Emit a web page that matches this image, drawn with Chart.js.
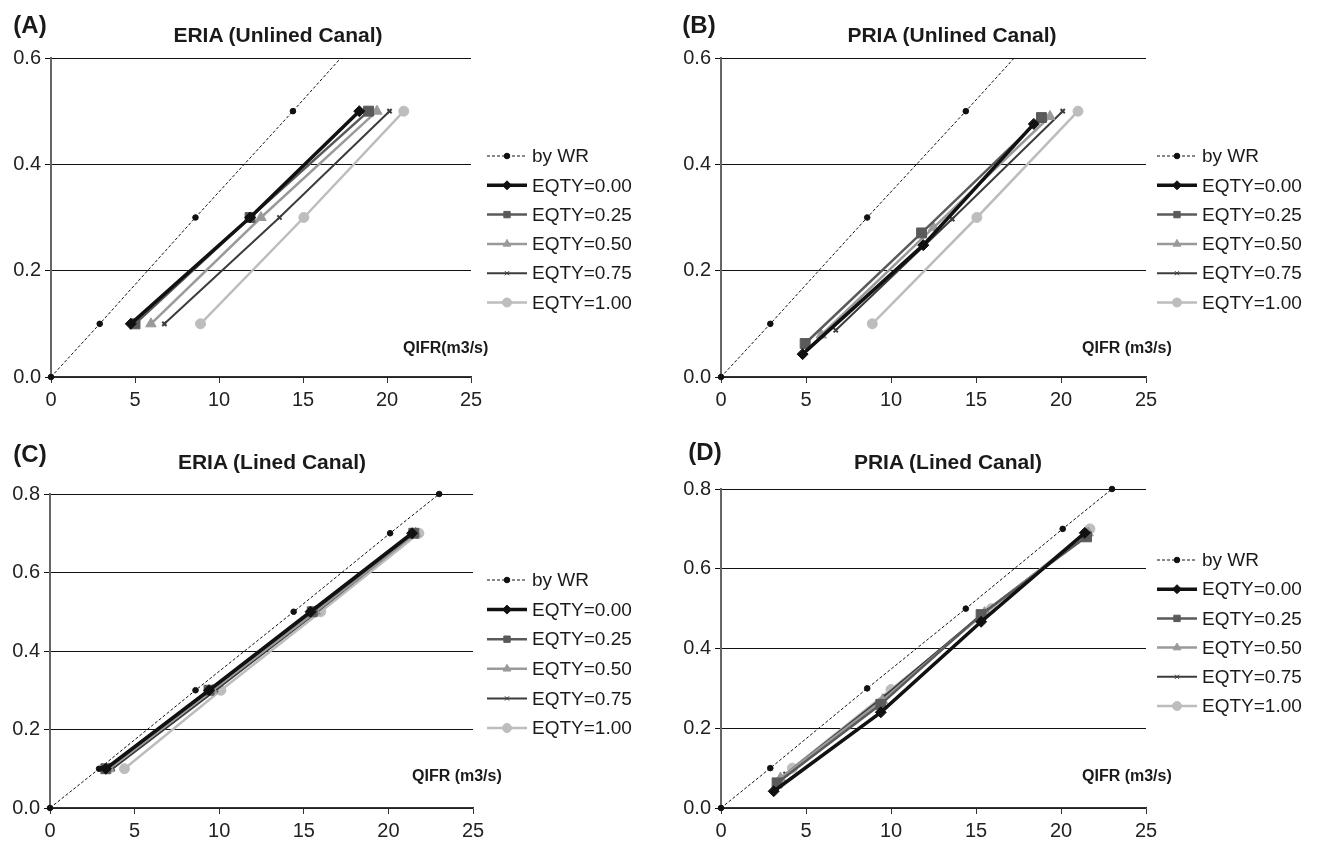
<!DOCTYPE html>
<html>
<head>
<meta charset="utf-8">
<script src="https://cdn.jsdelivr.net/npm/chart.js@4.4.1/dist/chart.umd.min.js"></script>
<style>
  body { margin: 0; background: #fff; width: 1322px; height: 841px; position: relative; overflow: hidden;
         font-family: "Liberation Sans", Arial, sans-serif; }
  canvas { position: absolute; }
  .lbl { position: absolute; font-weight: bold; color: #1a1a1a; white-space: nowrap; transform: translateY(-50%); }
  .ctr { transform: translate(-50%, -50%); }
</style>
</head>
<body>
<canvas id="chA" width="661" height="420" style="left:0;top:0"></canvas>
<canvas id="chB" width="661" height="420" style="left:661px;top:0"></canvas>
<canvas id="chC" width="661" height="420" style="left:0;top:420px"></canvas>
<canvas id="chD" width="661" height="420" style="left:661px;top:420px"></canvas>

<div class="lbl ctr" style="left:30px;top:25px;font-size:24px">(A)</div>
<div class="lbl ctr" style="left:699px;top:25px;font-size:24px">(B)</div>
<div class="lbl ctr" style="left:30px;top:454px;font-size:24px">(C)</div>
<div class="lbl ctr" style="left:705px;top:452px;font-size:24px">(D)</div>

<div class="lbl ctr" style="left:278px;top:35px;font-size:21px">ERIA (Unlined Canal)</div>
<div class="lbl ctr" style="left:952px;top:35px;font-size:21px">PRIA (Unlined Canal)</div>
<div class="lbl ctr" style="left:272px;top:462px;font-size:21px">ERIA (Lined Canal)</div>
<div class="lbl ctr" style="left:948px;top:462px;font-size:21px">PRIA (Lined Canal)</div>

<div class="lbl" style="left:403px;top:348px;font-size:16px">QIFR(m3/s)</div>
<div class="lbl" style="left:1082px;top:348px;font-size:16px">QIFR (m3/s)</div>
<div class="lbl" style="left:412px;top:776px;font-size:16px">QIFR (m3/s)</div>
<div class="lbl" style="left:1082px;top:776px;font-size:16px">QIFR (m3/s)</div>

<script>
// reference line "by WR"
const wrX = [0, 2.9, 8.6, 14.4, 20.1, 23.0];
const wrY = [0, 0.1, 0.3, 0.5, 0.7, 0.8];

const eqtyLabels = ['EQTY=0.00', 'EQTY=0.25', 'EQTY=0.50', 'EQTY=0.75', 'EQTY=1.00'];

// (A) ERIA unlined
const eriaUnlinedX = [
  [4.75, 11.85, 18.35],
  [5.0, 11.85, 18.9],
  [5.95, 12.5, 19.4],
  [6.75, 13.6, 20.15],
  [8.9, 15.05, 21.0]
];
const eriaUnlinedY = [
  [0.1, 0.3, 0.5], [0.1, 0.3, 0.5], [0.1, 0.3, 0.5], [0.1, 0.3, 0.5], [0.1, 0.3, 0.5]
];

// (B) PRIA unlined
const priaUnlinedX = [
  [4.8, 11.9, 18.4],
  [4.95, 11.8, 18.85],
  [5.9, 12.5, 19.35],
  [6.75, 13.6, 20.1],
  [8.9, 15.05, 21.0]
];
const priaUnlinedY = [
  [0.043, 0.248, 0.476],
  [0.063, 0.271, 0.488],
  [0.079, 0.281, 0.49],
  [0.088, 0.297, 0.5],
  [0.1, 0.3, 0.5]
];

// (C) ERIA lined
const eriaLinedX = [
  [3.3, 9.4, 15.4, 21.4],
  [3.3, 9.4, 15.5, 21.5],
  [3.5, 9.6, 15.7, 21.6],
  [3.7, 9.8, 15.8, 21.6],
  [4.4, 10.1, 16.0, 21.8]
];
const eriaLinedY = [
  [0.1, 0.3, 0.5, 0.7], [0.1, 0.3, 0.5, 0.7], [0.1, 0.3, 0.5, 0.7], [0.1, 0.3, 0.5, 0.7], [0.1, 0.3, 0.5, 0.7]
];

// (D) PRIA lined
const priaLinedX = [
  [3.1, 9.4, 15.3, 21.4],
  [3.3, 9.4, 15.3, 21.5],
  [3.5, 9.5, 15.5, 21.6],
  [3.8, 9.6, 15.6, 21.6],
  [4.2, 10.0, 15.9, 21.7]
];
const priaLinedY = [
  [0.042, 0.24, 0.467, 0.69],
  [0.063, 0.26, 0.485, 0.68],
  [0.075, 0.27, 0.49, 0.69],
  [0.085, 0.28, 0.495, 0.69],
  [0.1, 0.297, 0.5, 0.7]
];

const seriesStyle = [
  { color: '#111111', width: 3.5, point: 'rectRot', r: 5.5 },
  { color: '#5a5a5a', width: 2.5, point: 'rect', r: 7 },
  { color: '#9a9a9a', width: 2.5, point: 'triangle', r: 6 },
  { color: '#3c3c3c', width: 2, point: 'crossRot', r: 3 },
  { color: '#bdbdbd', width: 2.5, point: 'circle', r: 5 }
];

const pairs = (xs, ys) => xs.map((x, i) => ({ x: x, y: ys[i] }));

// legend drawn beside the plot
const sideLegend = {
  id: 'sideLegend',
  afterDraw(chart, args, opts) {
    const ctx = chart.ctx;
    ctx.save();
    chart.data.datasets.forEach((ds, i) => {
      const y = opts.y + i * opts.gap;
      const x = opts.x;
      ctx.strokeStyle = ds.borderColor;
      ctx.lineWidth = ds.borderWidth;
      ctx.setLineDash(ds.borderDash || []);
      ctx.beginPath();
      ctx.moveTo(x, y);
      ctx.lineTo(x + 40, y);
      ctx.stroke();
      ctx.setLineDash([]);
      ctx.fillStyle = ds.pointBackgroundColor;
      ctx.strokeStyle = ds.pointBorderColor;
      ctx.lineWidth = 1;
      Chart.helpers.drawPoint(ctx, {
        pointStyle: ds.pointStyle, radius: Math.min(ds.pointRadius, 4.5), rotation: 0, borderWidth: 1
      }, x + 20, y);
      ctx.fillStyle = '#1a1a1a';
      ctx.font = '19px "Liberation Sans", Arial, sans-serif';
      ctx.textBaseline = 'middle';
      ctx.fillText(ds.label, x + 45, y + 1);
    });
    ctx.restore();
  }
};

function makePanel(id, xs, ys, yMax, area, legend) {
  const W = 661, H = 420;
  // unlined panels cut the WR line at the top edge, lined panels show its end point whole
  const wrClip = yMax < 0.8 ? { left: 5, bottom: 5, right: 5, top: 0 } : { left: 5, bottom: 5, right: 5, top: 5 };
  const datasets = [{
    label: 'by WR',
    data: pairs(wrX, wrY),
    showLine: true,
    clip: wrClip,
    borderColor: '#111',
    borderWidth: 1,
    borderDash: [3, 2],
    pointStyle: 'circle',
    pointRadius: 2.8,
    pointBackgroundColor: '#111',
    pointBorderColor: '#111'
  }];
  xs.forEach((x, i) => {
    const s = seriesStyle[i];
    datasets.push({
      label: eqtyLabels[i],
      data: pairs(x, ys[i]),
      showLine: true,
      borderColor: s.color,
      borderWidth: s.width,
      pointStyle: s.point,
      pointRadius: s.r,
      pointBorderWidth: s.point === 'crossRot' ? 2 : 1,
      pointBackgroundColor: s.color,
      pointBorderColor: s.color
    });
  });

  new Chart(document.getElementById(id), {
    type: 'scatter',
    data: { datasets: datasets },
    plugins: [sideLegend],
    options: {
      responsive: false,
      animation: false,
      devicePixelRatio: 1,
      layout: { padding: { left: 0, top: area.t, right: W - area.r, bottom: 0 } },
      plugins: {
        legend: { display: false },
        tooltip: { enabled: false },
        sideLegend: legend
      },
      scales: {
        x: {
          type: 'linear', min: 0, max: 25,
          afterFit: s => { s.height = H - area.b; },
          ticks: { stepSize: 5, color: '#222', font: { size: 20, family: '"Liberation Sans", Arial' }, padding: 5 },
          grid: { drawOnChartArea: false, tickLength: 6, color: '#333' },
          border: { color: '#333', width: 1.5 }
        },
        y: {
          type: 'linear', min: 0, max: yMax,
          afterFit: s => { s.width = area.l; },
          ticks: { stepSize: 0.2, color: '#222', font: { size: 20, family: '"Liberation Sans", Arial' },
                   padding: 4, callback: v => v.toFixed(1) },
          grid: { color: '#111', lineWidth: 1, tickLength: 6 },
          border: { color: '#666', width: 2 }
        }
      }
    }
  });
}

makePanel('chA', eriaUnlinedX, eriaUnlinedY, 0.6, { l: 51, r: 471, t: 58, b: 377 }, { x: 487, y: 156, gap: 29.3 });
makePanel('chB', priaUnlinedX, priaUnlinedY, 0.6, { l: 60, r: 485, t: 58, b: 377 }, { x: 496, y: 156, gap: 29.3 });
makePanel('chC', eriaLinedX, eriaLinedY, 0.8, { l: 50, r: 473, t: 74, b: 388 }, { x: 487, y: 160, gap: 29.6 });
makePanel('chD', priaLinedX, priaLinedY, 0.8, { l: 60, r: 485, t: 69, b: 388 }, { x: 496, y: 140, gap: 29.2 });
</script>
</body>
</html>
